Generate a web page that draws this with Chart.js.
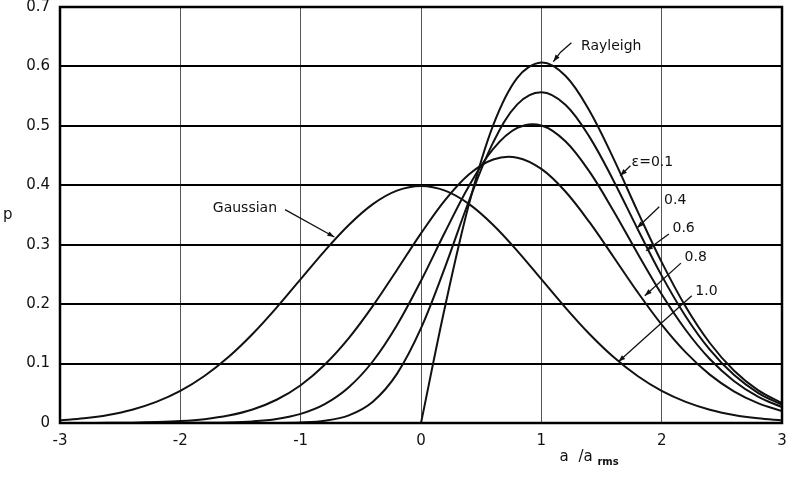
<!DOCTYPE html>
<html>
<head>
<meta charset="utf-8">
<script src="https://cdn.jsdelivr.net/npm/chart.js@4.4.0/dist/chart.umd.min.js"></script>
<style>
  html, body { margin: 0; padding: 0; background: #fff; }
  #wrap { width: 790px; height: 480px; }
</style>
</head>
<body>
<div id="wrap"><canvas id="chart-1" width="790" height="480"></canvas></div>
<script>
// Abscissa a / a_rms
const xValues = [-3, -2.8, -2.6, -2.4, -2.2, -2, -1.8, -1.6, -1.4, -1.2, -1, -0.8, -0.6, -0.4, -0.2,
    0, 0.2, 0.4, 0.6, 0.8, 1, 1.2, 1.4, 1.6, 1.8, 2, 2.2, 2.4, 2.6, 2.8, 3];

// Probability density
const gaussianP = [0.0044, 0.0079, 0.0136, 0.0224, 0.0355, 0.0540, 0.0790, 0.1109, 0.1497, 0.1942, 0.2420,
    0.2897, 0.3332, 0.3683, 0.3910, 0.3989, 0.3910, 0.3683, 0.3332, 0.2897, 0.2420, 0.1942, 0.1497,
    0.1109, 0.0790, 0.0540, 0.0355, 0.0224, 0.0136, 0.0079, 0.0044];
const eps08P = [0, 0.0001, 0.0003, 0.0006, 0.0015, 0.0032, 0.0065, 0.0125, 0.0227, 0.0391, 0.0636,
    0.0980, 0.1427, 0.1970, 0.2575, 0.3191, 0.3751, 0.4186, 0.4435, 0.4465, 0.4275, 0.3896, 0.3379,
    0.2794, 0.2202, 0.1655, 0.1188, 0.0814, 0.0533, 0.0334, 0.0200];
const eps06P = [0, 0, 0, 0, 0, 0.0001, 0.0004, 0.0009, 0.0027, 0.0068, 0.0154,
    0.0318, 0.0602, 0.1039, 0.1645, 0.2394, 0.3213, 0.3994, 0.4612, 0.4965, 0.5007, 0.4741, 0.4230,
    0.3568, 0.2853, 0.2166, 0.1565, 0.1076, 0.0707, 0.0444, 0.0266];
const eps04P = [0, 0, 0, 0, 0, 0, 0, 0, 0, 0.0001, 0.0009,
    0.0038, 0.0129, 0.0359, 0.0827, 0.1596, 0.2624, 0.3744, 0.4722, 0.5362, 0.5566, 0.5356, 0.4815,
    0.4077, 0.3265, 0.2480, 0.1793, 0.1234, 0.0810, 0.0508, 0.0305];
const rayleighP = [null, null, null, null, null, null, null, null, null, null, null,
    null, null, null, null, 0, 0.1960, 0.3692, 0.5012, 0.5809, 0.6065, 0.5842, 0.5254,
    0.4448, 0.3562, 0.2707, 0.1956, 0.1346, 0.0884, 0.0554, 0.0333];

const seriesNames = ['Gaussian', 'ε=0.8', 'ε=0.6', 'ε=0.4', 'Rayleigh'];
const xTickLabels = ['-3', '-2', '-1', '0', '1', '2', '3'];
const yTickLabels = ['0', '0.1', '0.2', '0.3', '0.4', '0.5', '0.6', '0.7'];

const FONT = '"DejaVu Sans", sans-serif';
const INK = '#111';

function toPoints(ys) {
    return xValues.map((x, i) => ({x: x, y: ys[i]}));
}

// Labels with leader lines, placed in data units
const curveLabels = [
    {text: 'Rayleigh', at: [1.33, 0.633], leader: [[1.25, 0.640], [1.16, 0.624], [1.10, 0.608]]},
    {text: 'Gaussian', at: [-1.73, 0.362], leader: [[-1.13, 0.359], [-0.72, 0.313]]},
    {text: 'ε=0.1', at: [1.75, 0.439], leader: [[1.74, 0.433], [1.655, 0.416]]},
    {text: '0.4', at: [2.02, 0.375], leader: [[1.98, 0.364], [1.795, 0.328]]},
    {text: '0.6', at: [2.09, 0.328], leader: [[2.06, 0.318], [1.87, 0.290]]},
    {text: '0.8', at: [2.19, 0.278], leader: [[2.16, 0.269], [1.86, 0.214]]},
    {text: '1.0', at: [2.28, 0.221], leader: [[2.25, 0.214], [1.64, 0.103]]}
];

const annotationPlugin = {
    id: 'annotations',
    afterDraw(chart) {
        const {ctx, chartArea, scales} = chart;
        const sx = scales.x, sy = scales.y;
        ctx.save();

        // heavy frame round the plot
        ctx.strokeStyle = '#000';
        ctx.lineWidth = 2.5;
        ctx.strokeRect(chartArea.left, chartArea.top, chartArea.right - chartArea.left, chartArea.bottom - chartArea.top);

        ctx.fillStyle = INK;
        ctx.strokeStyle = INK;
        ctx.textBaseline = 'middle';
        ctx.font = '14px ' + FONT;
        ctx.lineWidth = 1.3;

        curveLabels.forEach(l => {
            ctx.fillText(l.text, sx.getPixelForValue(l.at[0]), sy.getPixelForValue(l.at[1]));
            const pts = l.leader.map(p => [sx.getPixelForValue(p[0]), sy.getPixelForValue(p[1])]);
            ctx.beginPath();
            pts.forEach((p, i) => i ? ctx.lineTo(p[0], p[1]) : ctx.moveTo(p[0], p[1]));
            ctx.stroke();
            // arrow head at the curve end
            const a = pts[pts.length - 2], b = pts[pts.length - 1];
            const ang = Math.atan2(b[1] - a[1], b[0] - a[0]);
            ctx.beginPath();
            ctx.moveTo(b[0], b[1]);
            ctx.lineTo(b[0] - 7 * Math.cos(ang) + 2.5 * Math.sin(ang), b[1] - 7 * Math.sin(ang) - 2.5 * Math.cos(ang));
            ctx.lineTo(b[0] - 7 * Math.cos(ang) - 2.5 * Math.sin(ang), b[1] - 7 * Math.sin(ang) + 2.5 * Math.cos(ang));
            ctx.closePath();
            ctx.fill();
        });

        // axis titles
        ctx.font = '15px ' + FONT;
        ctx.fillText('p', 3, sy.getPixelForValue(0.35));
        const tx = sx.getPixelForValue(1.15), ty = chartArea.bottom + 34;
        ctx.fillText('a', tx, ty);
        ctx.fillText('/a', tx + 19, ty);
        ctx.font = 'bold 10px ' + FONT;
        ctx.fillText('rms', tx + 38, ty + 5);
        ctx.restore();
    }
};

function createChart() {
    const ctx = document.getElementById('chart-1').getContext('2d');
    const allSeries = [gaussianP, eps08P, eps06P, eps04P, rayleighP];

    new Chart(ctx, {
        type: 'line',
        data: {
            datasets: allSeries.map((ys, i) => ({
                label: seriesNames[i],
                data: toPoints(ys),
                borderColor: INK,
                borderWidth: 2,
                pointRadius: 0,
                fill: false,
                tension: 0.35
            }))
        },
        options: {
            responsive: false,
            animation: false,
            layout: {padding: {top: 7, right: 8, left: 0, bottom: 0}},
            plugins: {
                legend: {display: false},
                tooltip: {enabled: false}
            },
            scales: {
                x: {
                    type: 'linear',
                    min: -3,
                    max: 3,
                    afterFit: s => { s.height = 57; s.paddingLeft = 0; s.paddingRight = 0; },
                    border: {display: false},
                    grid: {color: '#555', lineWidth: 1, drawTicks: false},
                    ticks: {
                        stepSize: 1,
                        padding: 9,
                        color: INK,
                        font: {family: FONT, size: 15},
                        callback: (v, i) => xTickLabels[i]
                    }
                },
                y: {
                    min: 0,
                    max: 0.7,
                    afterFit: s => { s.width = 60; s.paddingTop = 0; s.paddingBottom = 0; },
                    border: {display: false},
                    grid: {color: '#000', lineWidth: 2, drawTicks: false},
                    ticks: {
                        stepSize: 0.1,
                        padding: 10,
                        color: INK,
                        font: {family: FONT, size: 15},
                        callback: (v, i) => yTickLabels[i]
                    }
                }
            }
        },
        plugins: [annotationPlugin]
    });
}

document.addEventListener('DOMContentLoaded', function () {
    createChart();
});
</script>
</body>
</html>
